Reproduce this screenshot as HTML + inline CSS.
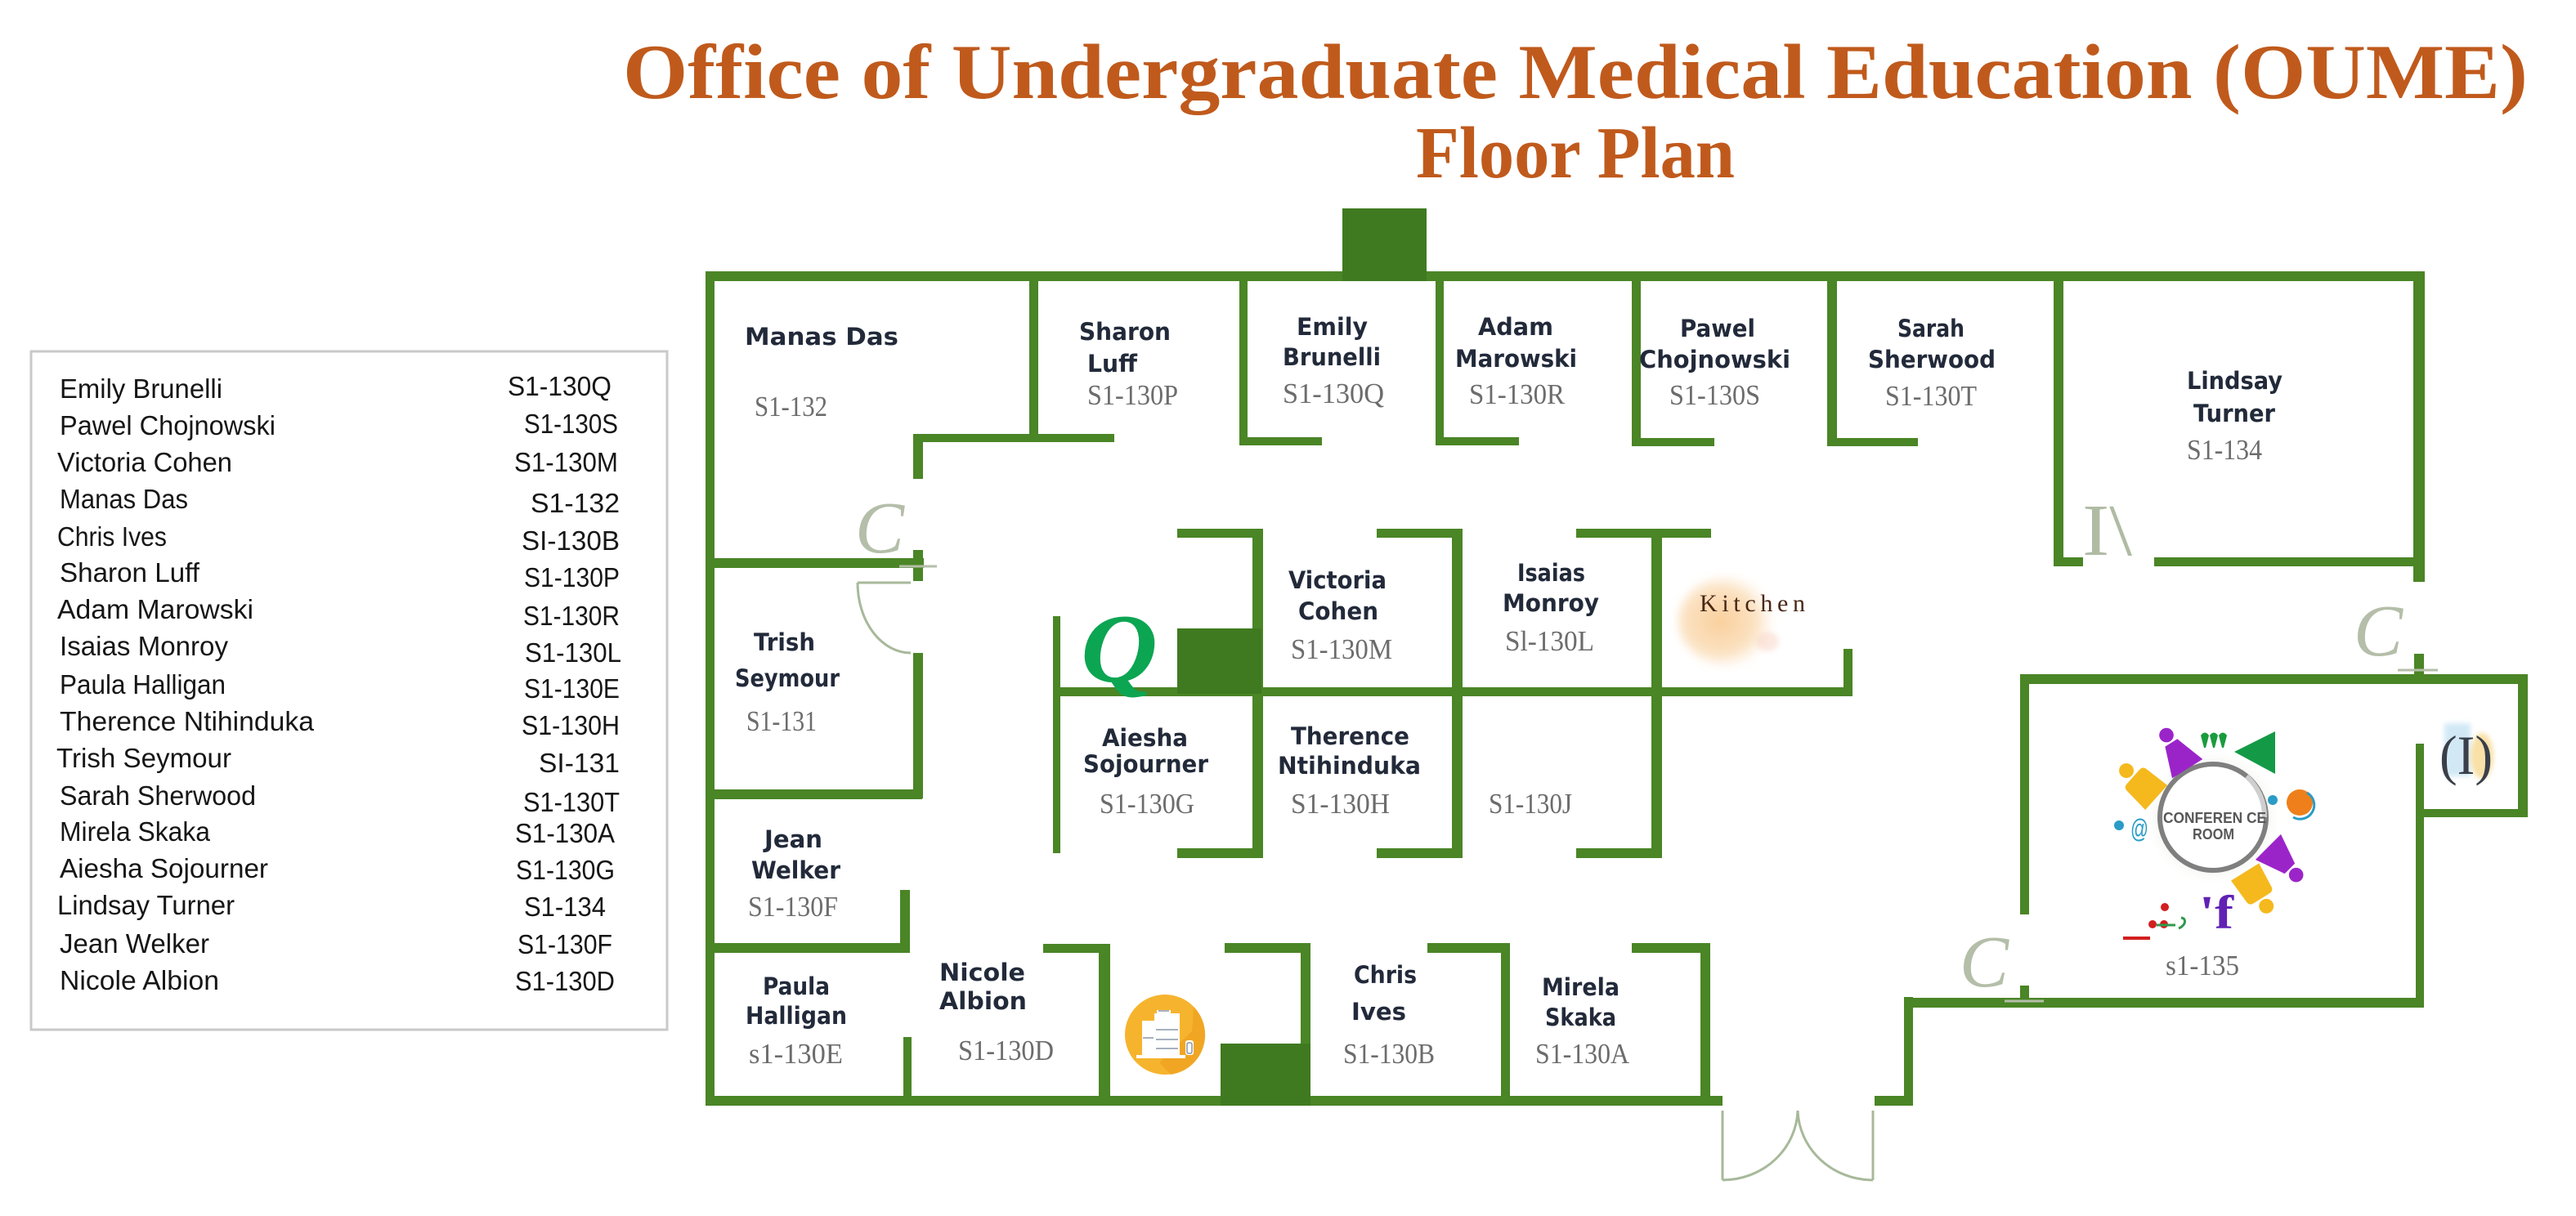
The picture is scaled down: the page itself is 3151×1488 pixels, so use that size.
<!DOCTYPE html>
<html>
<head>
<meta charset="utf-8">
<style>
  html, body { margin:0; padding:0; background:#ffffff; }
  body { width:3151px; height:1488px; overflow:hidden; }
  svg { display:block; }
  .nm { font-family:"DejaVu Sans", "Liberation Sans", sans-serif; font-weight:bold; font-size:29px; fill:#222a3a; }
  .cd { font-family:"Liberation Serif", serif; font-size:35px; fill:#6c6c6c; }
  .lg { font-family:"Liberation Sans", sans-serif; font-size:33px; fill:#161616; }
  .dc { font-family:"Liberation Serif", serif; font-style:italic; font-size:90px; fill:#b4bea9; }
</style>
</head>
<body>
<svg width="3151" height="1488" viewBox="0 0 3151 1488" xmlns="http://www.w3.org/2000/svg">
  <defs>
    <radialGradient id="kg" cx="0.42" cy="0.5" r="0.55">
      <stop offset="0" stop-color="#f8c78a" stop-opacity="0.85"/>
      <stop offset="0.65" stop-color="#fad8ad" stop-opacity="0.75"/>
      <stop offset="1" stop-color="#fde9d2" stop-opacity="0"/>
    </radialGradient>
    <filter id="bl" x="-20%" y="-20%" width="140%" height="140%">
      <feGaussianBlur stdDeviation="3"/>
    </filter>
    <filter id="bl2" x="-30%" y="-30%" width="160%" height="160%">
      <feGaussianBlur stdDeviation="5"/>
    </filter>
  </defs>

  <rect x="0" y="0" width="3151" height="1488" fill="#ffffff"/>

  <!-- TITLE -->
  <text x="762" y="120" font-family="Liberation Serif, serif" font-weight="bold" font-size="95" fill="#c05a1c" textLength="2330" lengthAdjust="spacingAndGlyphs">Office of Undergraduate Medical Education (OUME)</text>
  <text x="1732" y="217" font-family="Liberation Serif, serif" font-weight="bold" font-size="90" fill="#c05a1c" textLength="390" lengthAdjust="spacingAndGlyphs">Floor Plan</text>

  <!-- LEGEND -->
  <rect x="38" y="430" width="778" height="830" fill="none" stroke="#c9c9c9" stroke-width="3"/>
  <g class="lg">
    <text x="73" y="487" textLength="199" lengthAdjust="spacingAndGlyphs">Emily Brunelli</text>
    <text x="621" y="484" textLength="127" lengthAdjust="spacingAndGlyphs">S1-130Q</text>
    <text x="73" y="532" textLength="264" lengthAdjust="spacingAndGlyphs">Pawel Chojnowski</text>
    <text x="641" y="530" textLength="115" lengthAdjust="spacingAndGlyphs">S1-130S</text>
    <text x="70" y="577" textLength="214" lengthAdjust="spacingAndGlyphs">Victoria Cohen</text>
    <text x="629" y="577" textLength="127" lengthAdjust="spacingAndGlyphs">S1-130M</text>
    <text x="73" y="622" textLength="157" lengthAdjust="spacingAndGlyphs">Manas Das</text>
    <text x="649" y="627" textLength="109" lengthAdjust="spacingAndGlyphs">S1-132</text>
    <text x="70" y="668" textLength="134" lengthAdjust="spacingAndGlyphs">Chris Ives</text>
    <text x="638" y="673" textLength="120" lengthAdjust="spacingAndGlyphs">SI-130B</text>
    <text x="73" y="712" textLength="171" lengthAdjust="spacingAndGlyphs">Sharon Luff</text>
    <text x="641" y="718" textLength="117" lengthAdjust="spacingAndGlyphs">S1-130P</text>
    <text x="70" y="757" textLength="240" lengthAdjust="spacingAndGlyphs">Adam Marowski</text>
    <text x="640" y="765" textLength="118" lengthAdjust="spacingAndGlyphs">S1-130R</text>
    <text x="73" y="802" textLength="206" lengthAdjust="spacingAndGlyphs">Isaias Monroy</text>
    <text x="642" y="810" textLength="118" lengthAdjust="spacingAndGlyphs">S1-130L</text>
    <text x="73" y="849" textLength="203" lengthAdjust="spacingAndGlyphs">Paula Halligan</text>
    <text x="641" y="854" textLength="117" lengthAdjust="spacingAndGlyphs">S1-130E</text>
    <text x="73" y="894" textLength="311" lengthAdjust="spacingAndGlyphs">Therence Ntihinduka</text>
    <text x="638" y="899" textLength="120" lengthAdjust="spacingAndGlyphs">S1-130H</text>
    <text x="69" y="939" textLength="214" lengthAdjust="spacingAndGlyphs">Trish Seymour</text>
    <text x="659" y="945" textLength="99" lengthAdjust="spacingAndGlyphs">SI-131</text>
    <text x="73" y="985" textLength="240" lengthAdjust="spacingAndGlyphs">Sarah Sherwood</text>
    <text x="640" y="993" textLength="118" lengthAdjust="spacingAndGlyphs">S1-130T</text>
    <text x="73" y="1029" textLength="184" lengthAdjust="spacingAndGlyphs">Mirela Skaka</text>
    <text x="630" y="1031" textLength="122" lengthAdjust="spacingAndGlyphs">S1-130A</text>
    <text x="73" y="1074" textLength="255" lengthAdjust="spacingAndGlyphs">Aiesha Sojourner</text>
    <text x="631" y="1076" textLength="121" lengthAdjust="spacingAndGlyphs">S1-130G</text>
    <text x="70" y="1119" textLength="217" lengthAdjust="spacingAndGlyphs">Lindsay Turner</text>
    <text x="641" y="1121" textLength="100" lengthAdjust="spacingAndGlyphs">S1-134</text>
    <text x="73" y="1166" textLength="183" lengthAdjust="spacingAndGlyphs">Jean Welker</text>
    <text x="633" y="1167" textLength="116" lengthAdjust="spacingAndGlyphs">S1-130F</text>
    <text x="73" y="1211" textLength="195" lengthAdjust="spacingAndGlyphs">Nicole Albion</text>
    <text x="630" y="1212" textLength="122" lengthAdjust="spacingAndGlyphs">S1-130D</text>
  </g>

  <!-- WALLS -->
  <g fill="#4a8526">
    <!-- outer -->
    <rect x="863" y="332" width="2103" height="12"/>
    <rect x="863" y="332" width="11" height="1021"/>
    <rect x="863" y="1341" width="1244" height="12"/>
    <rect x="2293" y="1341" width="47" height="12"/>
    <rect x="2329" y="1220" width="11" height="133"/>
    <rect x="2329" y="1221" width="636" height="12"/>
    <rect x="2955" y="910" width="10" height="323"/>
    <rect x="2955" y="990" width="137" height="10"/>
    <rect x="3080" y="825" width="12" height="175"/>
    <rect x="2471" y="825" width="621" height="12"/>
    <rect x="2471" y="825" width="11" height="294"/>
    <rect x="2471" y="1206" width="11" height="27"/>
    <rect x="2953" y="800" width="12" height="37"/>
    <rect x="2952" y="332" width="14" height="380"/>
    <rect x="2512" y="682" width="36" height="11"/>
    <rect x="2635" y="682" width="331" height="11"/>
    <rect x="2512" y="332" width="12" height="361"/>

    <!-- top row interior -->
    <rect x="1259" y="344" width="11" height="196"/>
    <rect x="1117" y="531" width="246" height="10"/>
    <rect x="1117" y="531" width="12" height="55"/>
    <rect x="1117" y="673" width="12" height="38"/>
    <rect x="1117" y="799" width="12" height="178"/>
    <rect x="863" y="683" width="267" height="12"/>
    <rect x="863" y="966" width="265" height="12"/>
    <rect x="1516" y="344" width="10" height="201"/>
    <rect x="1516" y="535" width="101" height="10"/>
    <rect x="1756" y="344" width="10" height="201"/>
    <rect x="1756" y="535" width="102" height="10"/>
    <rect x="1996" y="344" width="11" height="202"/>
    <rect x="1996" y="536" width="101" height="10"/>
    <rect x="2235" y="344" width="12" height="202"/>
    <rect x="2235" y="536" width="111" height="10"/>

    <!-- central block -->
    <rect x="1288" y="754" width="9" height="290"/>
    <rect x="1440" y="647" width="103" height="11"/>
    <rect x="1684" y="647" width="103" height="11"/>
    <rect x="1928" y="647" width="165" height="11"/>
    <rect x="1532" y="647" width="13" height="403"/>
    <rect x="1776" y="647" width="13" height="403"/>
    <rect x="2020" y="647" width="13" height="403"/>
    <rect x="1288" y="841" width="978" height="11"/>
    <rect x="2255" y="794" width="11" height="58"/>
    <rect x="1440" y="1038" width="105" height="12"/>
    <rect x="1684" y="1038" width="105" height="12"/>
    <rect x="1928" y="1038" width="105" height="12"/>

    <!-- lower rooms -->
    <rect x="1101" y="1089" width="12" height="77"/>
    <rect x="863" y="1154" width="250" height="12"/>
    <rect x="1105" y="1269" width="10" height="80"/>
    <rect x="1276" y="1155" width="82" height="11"/>
    <rect x="1344" y="1155" width="14" height="198"/>
    <rect x="1498" y="1154" width="105" height="12"/>
    <rect x="1591" y="1154" width="12" height="199"/>
    <rect x="1746" y="1154" width="101" height="12"/>
    <rect x="1836" y="1154" width="11" height="199"/>
    <rect x="1996" y="1154" width="96" height="12"/>
    <rect x="2080" y="1154" width="12" height="199"/>
  </g>
  <!-- dark blocks -->
  <g fill="#3f7a20">
    <rect x="1642" y="255" width="103" height="89"/>
    <rect x="1440" y="769" width="103" height="80"/>
    <rect x="1493" y="1277" width="110" height="76"/>
  </g>

  <!-- DOOR SYMBOLS -->
  <g fill="none" stroke="#a7b99a" stroke-width="3">
    <path d="M1049,713 L1114,713"/>
    <path d="M1049,713 A65,86 0 0 0 1114,799"/>
    <path d="M2107,1359 L2107,1444"/>
    <path d="M2107,1444 A92,88 0 0 0 2199,1359"/>
    <path d="M2291,1359 L2291,1444"/>
    <path d="M2291,1444 A92,88 0 0 1 2199,1359"/>
  </g>
  <g stroke="#b4bea9" stroke-width="3">
    <line x1="1100" y1="693" x2="1146" y2="693"/>
    <line x1="2933" y1="820" x2="2982" y2="820"/>
    <line x1="2452" y1="1225" x2="2500" y2="1225"/>
  </g>
  <text class="dc" x="1046" y="676">C</text>
  <text class="dc" x="2879" y="802">C</text>
  <text class="dc" x="2397" y="1207">C</text>
  <text x="2547" y="679" font-family="Liberation Serif, serif" font-size="90" fill="#b0bba4" textLength="61" lengthAdjust="spacingAndGlyphs">I\</text>

  <!-- ROOM NAMES -->
  <g class="nm">
    <text x="911" y="422" textLength="188" lengthAdjust="spacingAndGlyphs">Manas Das</text>
    <text x="1320" y="416" textLength="112" lengthAdjust="spacingAndGlyphs">Sharon</text>
    <text x="1330" y="455" textLength="61" lengthAdjust="spacingAndGlyphs">Luff</text>
    <text x="1586" y="410" textLength="87" lengthAdjust="spacingAndGlyphs">Emily</text>
    <text x="1569" y="447" textLength="120" lengthAdjust="spacingAndGlyphs">Brunelli</text>
    <text x="1808" y="410" textLength="92" lengthAdjust="spacingAndGlyphs">Adam</text>
    <text x="1780" y="449" textLength="149" lengthAdjust="spacingAndGlyphs">Marowski</text>
    <text x="2055" y="412" textLength="92" lengthAdjust="spacingAndGlyphs">Pawel</text>
    <text x="2005" y="450" textLength="185" lengthAdjust="spacingAndGlyphs">Chojnowski</text>
    <text x="2321" y="412" textLength="82" lengthAdjust="spacingAndGlyphs">Sarah</text>
    <text x="2285" y="450" textLength="156" lengthAdjust="spacingAndGlyphs">Sherwood</text>
    <text x="2675" y="476" textLength="117" lengthAdjust="spacingAndGlyphs">Lindsay</text>
    <text x="2683" y="516" textLength="100" lengthAdjust="spacingAndGlyphs">Turner</text>
    <text x="1576" y="720" textLength="120" lengthAdjust="spacingAndGlyphs">Victoria</text>
    <text x="1588" y="758" textLength="98" lengthAdjust="spacingAndGlyphs">Cohen</text>
    <text x="1856" y="711" textLength="83" lengthAdjust="spacingAndGlyphs">Isaias</text>
    <text x="1838" y="748" textLength="118" lengthAdjust="spacingAndGlyphs">Monroy</text>
    <text x="922" y="796" textLength="75" lengthAdjust="spacingAndGlyphs">Trish</text>
    <text x="899" y="840" textLength="128" lengthAdjust="spacingAndGlyphs">Seymour</text>
    <text x="1348" y="913" textLength="105" lengthAdjust="spacingAndGlyphs">Aiesha</text>
    <text x="1325" y="945" textLength="153" lengthAdjust="spacingAndGlyphs">Sojourner</text>
    <text x="1579" y="911" textLength="145" lengthAdjust="spacingAndGlyphs">Therence</text>
    <text x="1563" y="947" textLength="175" lengthAdjust="spacingAndGlyphs">Ntihinduka</text>
    <text x="935" y="1037" textLength="71" lengthAdjust="spacingAndGlyphs">Jean</text>
    <text x="919" y="1075" textLength="109" lengthAdjust="spacingAndGlyphs">Welker</text>
    <text x="933" y="1217" textLength="82" lengthAdjust="spacingAndGlyphs">Paula</text>
    <text x="912" y="1253" textLength="124" lengthAdjust="spacingAndGlyphs">Halligan</text>
    <text x="1149" y="1200" textLength="105" lengthAdjust="spacingAndGlyphs">Nicole</text>
    <text x="1149" y="1235" textLength="107" lengthAdjust="spacingAndGlyphs">Albion</text>
    <text x="1656" y="1203" textLength="77" lengthAdjust="spacingAndGlyphs">Chris</text>
    <text x="1653" y="1248" textLength="67" lengthAdjust="spacingAndGlyphs">Ives</text>
    <text x="1886" y="1218" textLength="95" lengthAdjust="spacingAndGlyphs">Mirela</text>
    <text x="1890" y="1255" textLength="87" lengthAdjust="spacingAndGlyphs">Skaka</text>
  </g>

  <!-- ROOM CODES -->
  <g class="cd">
    <text x="923" y="509" textLength="89" lengthAdjust="spacingAndGlyphs">S1-132</text>
    <text x="1330" y="495" textLength="111" lengthAdjust="spacingAndGlyphs">S1-130P</text>
    <text x="1569" y="493" textLength="124" lengthAdjust="spacingAndGlyphs">S1-130Q</text>
    <text x="1797" y="494" textLength="117" lengthAdjust="spacingAndGlyphs">S1-130R</text>
    <text x="2042" y="495" textLength="111" lengthAdjust="spacingAndGlyphs">S1-130S</text>
    <text x="2306" y="496" textLength="112" lengthAdjust="spacingAndGlyphs">S1-130T</text>
    <text x="2675" y="562" textLength="92" lengthAdjust="spacingAndGlyphs">S1-134</text>
    <text x="1579" y="806" textLength="124" lengthAdjust="spacingAndGlyphs">S1-130M</text>
    <text x="1841" y="796" textLength="109" lengthAdjust="spacingAndGlyphs">Sl-130L</text>
    <text x="913" y="894" textLength="86" lengthAdjust="spacingAndGlyphs">S1-131</text>
    <text x="1345" y="995" textLength="116" lengthAdjust="spacingAndGlyphs">S1-130G</text>
    <text x="1579" y="995" textLength="121" lengthAdjust="spacingAndGlyphs">S1-130H</text>
    <text x="1821" y="995" textLength="102" lengthAdjust="spacingAndGlyphs">S1-130J</text>
    <text x="915" y="1121" textLength="110" lengthAdjust="spacingAndGlyphs">S1-130F</text>
    <text x="916" y="1301" textLength="115" lengthAdjust="spacingAndGlyphs">s1-130E</text>
    <text x="1172" y="1297" textLength="117" lengthAdjust="spacingAndGlyphs">S1-130D</text>
    <text x="1643" y="1301" textLength="112" lengthAdjust="spacingAndGlyphs">S1-130B</text>
    <text x="1878" y="1301" textLength="115" lengthAdjust="spacingAndGlyphs">S1-130A</text>
    <text x="2649" y="1193" textLength="90" lengthAdjust="spacingAndGlyphs">s1-135</text>
  </g>

  <!-- Q LOGO -->
  <text x="1322" y="834" font-family="Liberation Serif, serif" font-style="italic" font-weight="bold" font-size="120" fill="#0ca552" textLength="94" lengthAdjust="spacingAndGlyphs">Q</text>

  <!-- KITCHEN -->
  <ellipse cx="2114" cy="760" rx="62" ry="56" fill="url(#kg)" filter="url(#bl2)"/>
  <ellipse cx="2162" cy="785" rx="14" ry="12" fill="#f8cfc0" opacity="0.45" filter="url(#bl)"/>
  <text x="2079" y="748" font-family="Liberation Serif, serif" font-size="30" fill="#4a2616" textLength="129" lengthAdjust="spacing">Kitchen</text>

  <!-- COPIER ICON -->
  <circle cx="1425" cy="1266" r="49" fill="#f6b42e"/>
  <path d="M1460,1232 A49,49 0 0 1 1432,1315 L1418,1300 L1458,1262 Z" fill="#f0a321" opacity="0.8"/>
  <g fill="#ffffff">
    <rect x="1412" y="1240" width="31" height="53"/>
    <rect x="1397" y="1249" width="15" height="44"/>
    <rect x="1415" y="1236" width="17" height="5"/>
    <rect x="1450" y="1273" width="10" height="18" rx="3"/>
    <rect x="1390" y="1291" width="60" height="4"/>
  </g>
  <g stroke="#8a95a8" stroke-width="1.5" fill="none">
    <line x1="1414" y1="1260" x2="1441" y2="1260"/>
    <line x1="1414" y1="1272" x2="1441" y2="1272"/>
    <line x1="1414" y1="1283" x2="1441" y2="1283"/>
    <line x1="1398" y1="1270" x2="1411" y2="1270"/>
    <line x1="1417" y1="1237" x2="1430" y2="1237"/>
    <rect x="1452" y="1276" width="6" height="13" rx="2"/>
  </g>

  <!-- (I) ICON -->
  <rect x="2990" y="885" width="32" height="65" fill="#bfe1f2" opacity="0.7" filter="url(#bl)"/>
  <ellipse cx="3036" cy="925" rx="14" ry="28" fill="#f7d68a" opacity="0.75" filter="url(#bl)"/>
  <text x="2984" y="947" font-family="Liberation Serif, serif" font-size="68" fill="#3a3f4a" textLength="65" lengthAdjust="spacingAndGlyphs">(I)</text>

  <!-- CONFERENCE ROOM LOGO -->
  <circle cx="2707" cy="1000" r="74" fill="#f4f6f0" opacity="0.6" filter="url(#bl2)"/>
  <circle cx="2707" cy="1000" r="65" fill="#ffffff" stroke="#7f7f7f" stroke-width="6"/>
  <path d="M2748,950 A65,65 0 0 1 2770,1000" fill="none" stroke="#cfcfcf" stroke-width="6"/>
  <text x="2646" y="1007" font-family="Liberation Sans, sans-serif" font-weight="bold" font-size="18" fill="#575757" textLength="126" lengthAdjust="spacingAndGlyphs">CONFEREN CE</text>
  <text x="2682" y="1027" font-family="Liberation Sans, sans-serif" font-weight="bold" font-size="18" fill="#575757" textLength="51" lengthAdjust="spacingAndGlyphs">ROOM</text>

  <!-- people -->
  <g transform="translate(2621,961) rotate(-48) scale(1.12)" fill="#f5b91e">
    <circle cx="0" cy="-24" r="8"/>
    <path d="M-16,-8 Q-16,-14 -10,-14 L10,-14 Q16,-14 16,-8 L18,20 L-18,20 Z"/>
  </g>
  <g transform="translate(2664,922) rotate(-32) scale(1.1)" fill="#9b24c9">
    <circle cx="0" cy="-24" r="8"/>
    <path d="M-8,-14 L8,-14 L20,20 L-20,20 Z"/>
  </g>
  <g transform="translate(2790,1052) rotate(135) scale(1.1)" fill="#9b24c9">
    <circle cx="0" cy="-24" r="8"/>
    <path d="M-8,-14 L8,-14 L20,20 L-20,20 Z"/>
  </g>
  <g transform="translate(2758,1086) rotate(148) scale(1.12)" fill="#f5b91e">
    <circle cx="0" cy="-24" r="8"/>
    <path d="M-16,-8 Q-16,-14 -10,-14 L10,-14 Q16,-14 16,-8 L18,20 L-18,20 Z"/>
  </g>

  <!-- green marks -->
  <g fill="#1a9b3e">
    <path d="M2692,900 Q2697,893 2702,900 L2698,915 L2696,915 Z"/>
    <path d="M2703,900 Q2708,893 2713,900 L2709,915 L2707,915 Z"/>
    <path d="M2714,900 Q2719,893 2724,900 L2720,915 L2718,915 Z"/>
  </g>
  <polygon points="2733,920 2783,895 2783,947" fill="#149a46"/>
  <circle cx="2780" cy="979" r="6" fill="#2a9cc6"/>
  <circle cx="2813" cy="982" r="16" fill="#ef7f1a"/>
  <path d="M2822,970 A16,16 0 0 1 2805,1000" fill="none" stroke="#2a9cc6" stroke-width="3"/>
  <circle cx="2592" cy="1010" r="6" fill="#2a9cc6"/>
  <text x="2606" y="1025" font-family="Liberation Sans, sans-serif" font-size="32" fill="#2a9cc6" textLength="22" lengthAdjust="spacingAndGlyphs">@</text>

  <text x="2690" y="1136" font-family="Liberation Serif, serif" font-weight="bold" font-size="58" fill="#6122b4" textLength="42" lengthAdjust="spacingAndGlyphs">'f</text>
  <g fill="#d21f1f">
    <circle cx="2648" cy="1110" r="5"/>
    <circle cx="2633" cy="1131" r="5"/>
    <circle cx="2647" cy="1131" r="5"/>
    <rect x="2597" y="1146" width="33" height="4"/>
  </g>
  <line x1="2638" y1="1132" x2="2661" y2="1132" stroke="#2e9a4e" stroke-width="3"/>
  <path d="M2668,1123 Q2674,1124 2672,1130 Q2670,1134 2665,1136" fill="none" stroke="#2e9a4e" stroke-width="3"/>
</svg>
</body>
</html>
